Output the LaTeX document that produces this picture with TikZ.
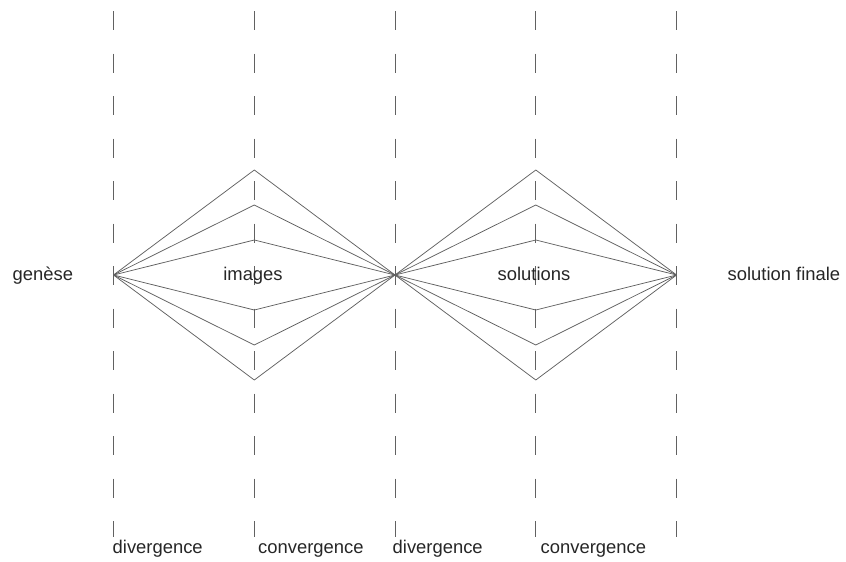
\documentclass[tikz,border=0pt]{standalone}
\usepackage{fontspec}
\setmainfont{Liberation Sans}
\begin{document}
\begin{tikzpicture}[x=1pt,y=-1pt,
  guide/.style={draw=black!62, line width=0.9pt, dash pattern=on 19pt off 23.5pt},
  ray/.style={draw=black!62, line width=0.75pt, line join=miter},
  lbl/.style={inner sep=0pt, text=black!85, font=\fontsize{18.4}{21}\selectfont}]
\useasboundingbox (0,0) rectangle (846,562);

% vertical phase guides
\foreach \i/\x in {1/113.5,2/254.3,3/395,4/535.8,5/676.6}{
  \coordinate (t\i) at (\x,11);
  \coordinate (b\i) at (\x,537);
  \draw[guide] (t\i) -- (b\i);
}

% meeting points of the fans
\coordinate (p0) at (113.5,275);
\coordinate (p1) at (395,275);
\coordinate (p2) at (676.6,275);

% fan vertices on the middle guides
\foreach \k in {1,2,3}{
  \coordinate (au\k) at (254.3,275-35*\k);
  \coordinate (al\k) at (254.3,275+35*\k);
  \coordinate (bu\k) at (535.8,275-35*\k);
  \coordinate (bl\k) at (535.8,275+35*\k);
  \draw[ray] (p0) -- (au\k) -- (p1);
  \draw[ray] (p0) -- (al\k) -- (p1);
  \draw[ray] (p1) -- (bu\k) -- (p2);
  \draw[ray] (p1) -- (bl\k) -- (p2);
}

% stage labels
\node[lbl, anchor=base west] (gen) at (12.5,280) {genèse};
\node[lbl, anchor=base] (img) at (253,280) {images};
\node[lbl, anchor=base] (sol) at (534,280) {solutions};
\node[lbl, anchor=base west] (fin) at (727.5,280) {solution finale};

% phase labels
\node[lbl, anchor=base west] (div1) at (112.5,553) {divergence};
\node[lbl, anchor=base west] (con1) at (258,553) {convergence};
\node[lbl, anchor=base west] (div2) at (392.5,553) {divergence};
\node[lbl, anchor=base west] (con2) at (540.5,553) {convergence};
\end{tikzpicture}
\end{document}
